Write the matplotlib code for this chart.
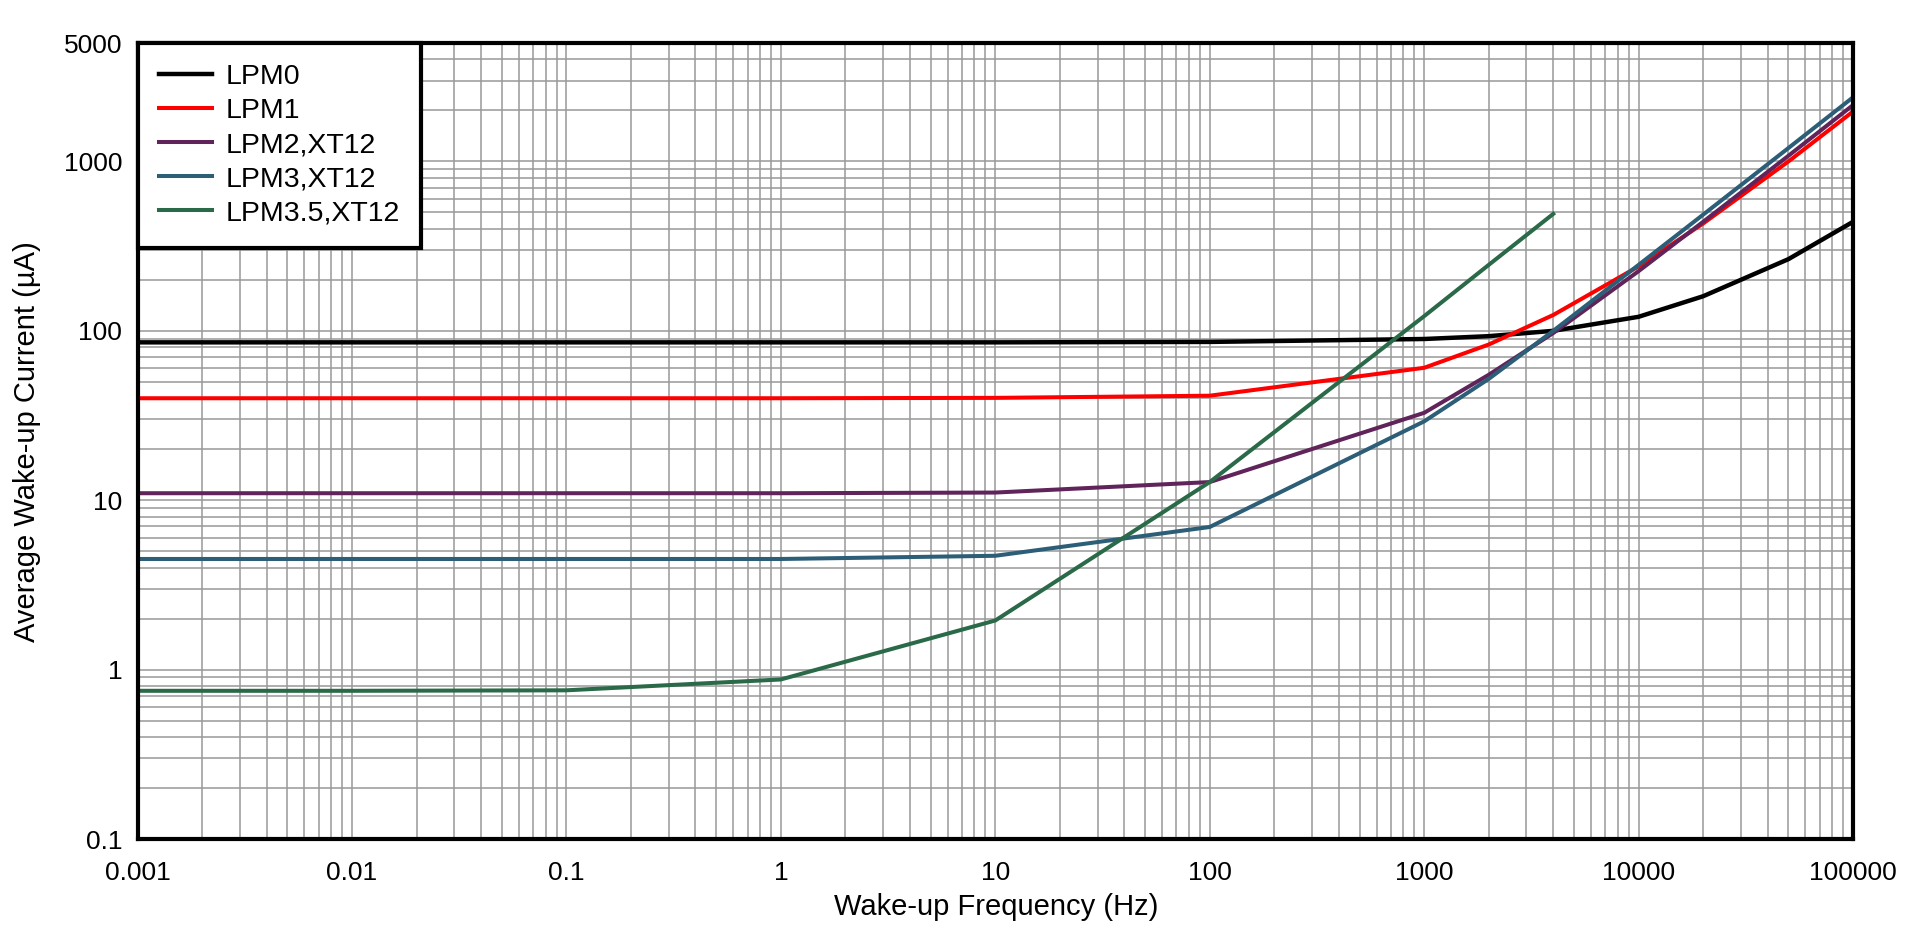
import matplotlib
matplotlib.use("Agg")
import matplotlib.pyplot as plt
import matplotlib.ticker as ticker

plt.rcParams['font.family'] = ['Liberation Sans', 'DejaVu Sans']

# values (uA vs Hz)
freq = [0.001, 0.01, 0.1, 1, 10, 100, 1000, 2000, 4000, 10000, 20000, 50000, 100000]
lpm0 = [85.5, 85.5, 85.5, 85.5, 85.5, 86, 89.5, 93, 100, 121, 160, 265, 440]
lpm1 = [40, 40, 40, 40, 40.2, 41.4, 60.5, 83, 124, 240, 430, 1000, 1970]
lpm2 = [11, 11, 11, 11, 11.1, 12.8, 32.8, 55, 97, 225, 440, 1080, 2150]
lpm3 = [4.5, 4.5, 4.5, 4.5, 4.7, 6.95, 29.2, 52, 100, 245, 485, 1200, 2390]
freq35 = [0.001, 0.01, 0.1, 1, 10, 100, 1000, 2000, 4000]
lpm35 = [0.75, 0.75, 0.755, 0.875, 1.95, 12.8, 122, 245, 490]

series = [
    ("LPM0", freq, lpm0, "black", 3.2),
    ("LPM1", freq, lpm1, "#ff0000", 2.9),
    ("LPM2,XT12", freq, lpm2, "#60245a", 2.9),
    ("LPM3,XT12", freq, lpm3, "#2c5e78", 2.9),
    ("LPM3.5,XT12", freq35, lpm35, "#2a6a48", 2.9),
]

xticks = [0.001, 0.01, 0.1, 1, 10, 100, 1000, 10000, 100000]
xlabels = ["0.001", "0.01", "0.1", "1", "10", "100", "1000", "10000", "100000"]
yticks = [0.1, 1, 10, 100, 1000, 5000]
ylabels = ["0.1", "1", "10", "100", "1000", "5000"]

fig = plt.figure(figsize=(19.26, 9.33), dpi=100)
ax = fig.add_axes([0.0714, 0.1007, 0.8907, 0.8532])

for name, x, y, col, lw in series:
    ax.plot(x, y, color=col, linewidth=lw, label=name)

ax.set_xscale('log')
ax.set_yscale('log')
ax.set_xlim(0.001, 100000)
ax.set_ylim(0.1, 5000)

ax.xaxis.set_major_locator(ticker.FixedLocator(xticks))
ax.xaxis.set_major_formatter(ticker.FixedFormatter(xlabels))
ax.yaxis.set_major_locator(ticker.FixedLocator(yticks))
ax.yaxis.set_major_formatter(ticker.FixedFormatter(ylabels))
ax.xaxis.set_minor_locator(ticker.LogLocator(base=10, subs=range(2, 10), numticks=100))
ax.yaxis.set_minor_locator(ticker.LogLocator(base=10, subs=range(2, 10), numticks=100))
ax.xaxis.set_minor_formatter(ticker.NullFormatter())
ax.yaxis.set_minor_formatter(ticker.NullFormatter())

ax.tick_params(which='both', length=0)
ax.tick_params(axis='x', labelsize=19, pad=16)
ax.tick_params(axis='y', labelsize=19, pad=11)

ax.grid(which='both', color='#999999', linewidth=1.1)
ax.set_axisbelow(True)

for s in ax.spines.values():
    s.set_linewidth(3)
    s.set_color('black')
    s.set_zorder(5)

ax.set_xlabel("Wake-up Frequency (Hz)", fontsize=21)
ax.set_ylabel("Average Wake-up Current (µA)", fontsize=21)
ax.xaxis.set_label_coords(0.5004, -0.068)
ax.yaxis.set_label_coords(-0.056, 0.499)

leg = ax.legend(loc='upper left', bbox_to_anchor=(0, 1), borderaxespad=0,
                fontsize=20.5, fancybox=False, framealpha=1, edgecolor='black',
                borderpad=0.75, labelspacing=0.28, handlelength=1.85,
                handletextpad=0.5)
leg.get_frame().set_linewidth(3)
leg.set_zorder(6)

plt.savefig("out.png", dpi=100)
